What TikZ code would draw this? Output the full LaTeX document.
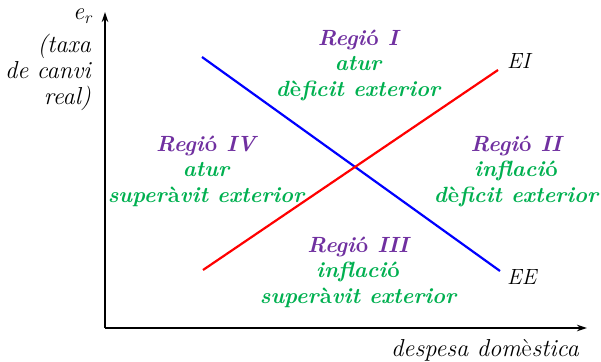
\documentclass[tikz,border=0pt]{standalone}
\usepackage{fontspec}
\usetikzlibrary{arrows.meta}
\definecolor{rpurple}{RGB}{112,48,160}
\definecolor{rgreen}{RGB}{0,176,80}
\newcommand{\uprt}[1]{\textup{#1}}
\newcommand{\regt}[1]{\textcolor{rpurple}{#1}}
\begin{document}
\begin{tikzpicture}[x=1pt,y=-1pt,
  region/.style={align=center,text=rgreen,inner sep=0pt,anchor=base,
    font=\fontsize{22}{25.5}\selectfont\bfseries\itshape},
  axlabel/.style={inner sep=0pt,font=\fontsize{24.5}{26}\selectfont\itshape},
  ptlabel/.style={inner sep=0pt,font=\fontsize{22}{26}\selectfont\itshape},
  axis/.style={line width=1.3pt,-{Stealth[length=10pt,width=6.5pt]}},
  curve/.style={line width=2.2pt}]
\useasboundingbox (0,0) rectangle (601,361);
\coordinate (O) at (105,328);
\coordinate (ytip) at (105,12);
\coordinate (xtip) at (587,328);
\draw[axis] (O) -- (ytip);
\draw[axis] (O) -- (xtip);
\coordinate (b1) at (202,57);
\coordinate (b2) at (500,271);
\coordinate (r1) at (203,270);
\coordinate (r2) at (498,70);
\draw[curve,blue] (b1) -- (b2);
\draw[curve,red] (r1) -- (r2);
\node[ptlabel,anchor=base west] (ei) at (507,68) {EI};
\node[ptlabel,anchor=base west] (ee) at (507,284) {EE};
\node[axlabel,anchor=base east] (er) at (92,20) {e\textsubscript{r}};
\node[axlabel,align=right,anchor=base east] (ylab) at (91,104) {(taxa\\de canvi\\real)};
\node[axlabel,anchor=base] (xlab) at (485,356) {despesa dom\uprt{è}stica};
\node[region] (reg1) at (358,96) {\regt{Regi\uprt{ó} I}\\atur\\d\uprt{è}ficit exterior};
\node[region] (reg4) at (206,202) {\regt{Regi\uprt{ó} IV}\\atur\\super\uprt{à}vit exterior};
\node[region] (reg2) at (516,202) {\regt{Regi\uprt{ó} II}\\inflaci\uprt{ó}\\d\uprt{è}ficit exterior};
\node[region] (reg3) at (358,303) {\regt{Regi\uprt{ó} III}\\inflaci\uprt{ó}\\super\uprt{à}vit exterior};
\end{tikzpicture}
\end{document}
